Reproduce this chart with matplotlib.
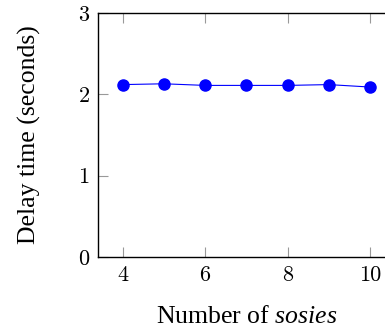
import matplotlib
matplotlib.use("Agg")
import matplotlib.pyplot as plt

# data
sosies = [4, 5, 6, 7, 8, 9, 10]
delay = [2.12, 2.13, 2.11, 2.11, 2.11, 2.12, 2.09]
xticks = [4, 6, 8, 10]
yticks = [0, 1, 2, 3]

plt.rcParams['font.family'] = ['Liberation Serif', 'DejaVu Serif']
plt.rcParams['mathtext.fontset'] = 'custom'
plt.rcParams['mathtext.it'] = 'Liberation Serif:italic'
plt.rcParams['mathtext.rm'] = 'Liberation Serif'

fig = plt.figure(figsize=(3.85, 3.29), dpi=100)
ax = fig.add_axes([0.2545, 0.2188, 0.7706, 0.7416])

ax.plot(sosies, delay, color='#0000FF', marker='o', markersize=8, linewidth=0.8)

ax.set_xlim(3.4, 10.6)
ax.set_ylim(0, 3)
ax.set_xticks(xticks)
ax.set_yticks(yticks)
ax.set_xticklabels([str(v) for v in xticks], fontsize=16, family='cmr10')
ax.set_yticklabels([str(v) for v in yticks], fontsize=16, family='cmr10')
ax.tick_params(direction='in', length=7, width=0.8, color='#999999',
               top=True, right=True, pad=6)
for s in ax.spines.values():
    s.set_linewidth(1.0)

ax.set_xlabel('Number of $\\it{sosies}$', fontsize=18.5, labelpad=15)
ax.set_ylabel('Delay time (seconds)', fontsize=18.5, labelpad=27)

plt.savefig('out.png', dpi=100)
